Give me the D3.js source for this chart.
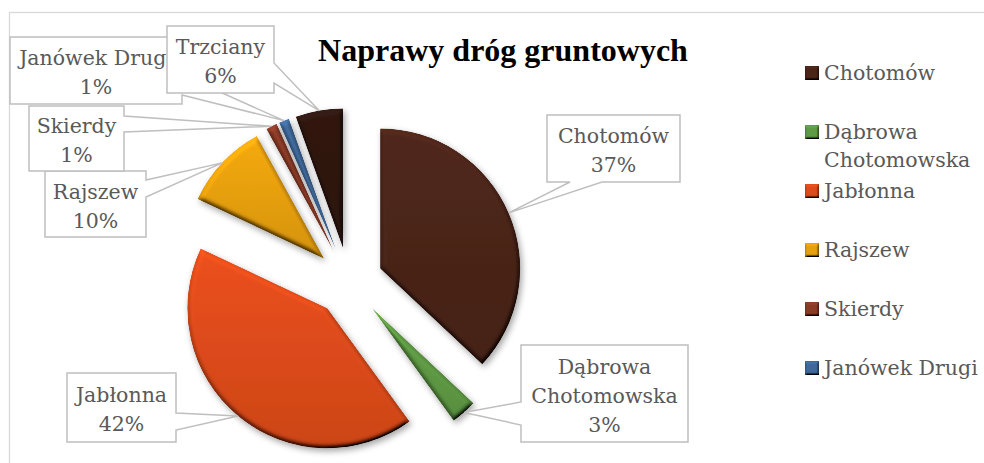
<!DOCTYPE html>
<html><head><meta charset="utf-8">
<script src="https://cdn.jsdelivr.net/npm/d3@7"></script>
<style>html,body{margin:0;padding:0;background:#fff;overflow:hidden}</style>
</head><body>
<svg id="chart" width="984" height="463"></svg>
<script>
const categories = ["Chotomów","Dąbrowa Chotomowska","Jabłonna","Rajszew","Skierdy","Janówek Drugi","Trzciany"];
const values = [37, 3, 42, 10, 1.3, 1.2, 5.5];
const colors = ["#4b2519","#5f9a44","#dd4b1a","#e69f0c","#8a3b27","#40699a","#2e1710"];
const labelNames = [["Chotomów"],["Dąbrowa","Chotomowska"],["Jabłonna"],["Rajszew"],["Skierdy"],["Janówek Drugi"],["Trzciany"]];
const legendNames = [["Chotomów"],["Dąbrowa","Chotomowska"],["Jabłonna"],["Rajszew"],["Skierdy"],["Janówek Drugi"],["Trzciany"]];
const title = "Naprawy dróg gruntowych";

// layout (not data)
const calloutLayout = [
  {x:547,y:115,w:133,h:67, side:"bottom", b:[570,602]},
  {x:521,y:345,w:167,h:97, side:"left",   b:[402,425]},
  {x:67, y:373,w:109,h:69, side:"right",  b:[413,430]},
  {x:45, y:171,w:101,h:66, side:"right",  b:[180,197]},
  {x:29, y:106,w:95, h:65, side:"right",  b:[116,132]},
  {x:10, y:37, w:172,h:67, side:"right",  b:[75,95]},
  {x:167,y:26, w:107,h:67, side:"right",  b:[63,83]}
];
const cx = 349, cy = 282, R = 140, explode = 34;
const FONT = "'DejaVu Serif', serif";

const svg = d3.select("#chart");
const defs = svg.append("defs");

// 3D bevel filter
const f = defs.append("filter").attr("id","bevel").attr("x","-30%").attr("y","-30%").attr("width","160%").attr("height","160%");
f.append("feGaussianBlur").attr("in","SourceAlpha").attr("stdDeviation",2.8).attr("result","blur");
f.append("feDiffuseLighting").attr("in","blur").attr("surfaceScale",5).attr("diffuseConstant",1).attr("lighting-color","#fff").attr("result","diff")
  .append("feDistantLight").attr("azimuth",250).attr("elevation",55);
f.append("feComposite").attr("in","SourceGraphic").attr("in2","diff").attr("operator","arithmetic")
  .attr("k1",1.22).attr("k2",0).attr("k3",0).attr("k4",0).attr("result","lit");
f.append("feComposite").attr("in","lit").attr("in2","SourceAlpha").attr("operator","in").attr("result","litc");
f.append("feGaussianBlur").attr("in","SourceAlpha").attr("stdDeviation",3).attr("result","sblur");
f.append("feOffset").attr("in","sblur").attr("dx",2).attr("dy",3).attr("result","soff");
f.append("feFlood").attr("flood-color","#000").attr("flood-opacity",0.35).attr("result","fl");
f.append("feComposite").attr("in","fl").attr("in2","soff").attr("operator","in").attr("result","shadow");
const m = f.append("feMerge");
m.append("feMergeNode").attr("in","shadow");
m.append("feMergeNode").attr("in","litc");

// small bevel for legend markers
const f2 = defs.append("filter").attr("id","bevelSmall").attr("x","-20%").attr("y","-20%").attr("width","140%").attr("height","140%");
f2.append("feGaussianBlur").attr("in","SourceAlpha").attr("stdDeviation",1.3).attr("result","blur");
f2.append("feDiffuseLighting").attr("in","blur").attr("surfaceScale",3).attr("diffuseConstant",1).attr("lighting-color","#fff").attr("result","diff")
  .append("feDistantLight").attr("azimuth",250).attr("elevation",55);
f2.append("feComposite").attr("in","SourceGraphic").attr("in2","diff").attr("operator","arithmetic")
  .attr("k1",1.22).attr("k2",0).attr("k3",0).attr("k4",0).attr("result","lit");
f2.append("feComposite").attr("in","lit").attr("in2","SourceAlpha").attr("operator","in");

// per-colour vertical gradients
colors.forEach((c,i)=>{
  const g = defs.append("linearGradient").attr("id","grad"+i).attr("x1",0).attr("y1",0).attr("x2",0).attr("y2",1);
  g.append("stop").attr("offset","0%").attr("stop-color",d3.color(c).brighter(0.18).formatHex());
  g.append("stop").attr("offset","100%").attr("stop-color",d3.color(c).darker(0.22).formatHex());
});

// chart border
svg.append("rect").attr("x",9.5).attr("y",12.5).attr("width",1000).attr("height",500)
  .attr("fill","#fff").attr("stroke","#d9d9d9").attr("stroke-width",1.3);

// title
svg.append("text").attr("x",503).attr("y",61).attr("text-anchor","middle")
  .attr("font-family","'Liberation Serif','Times New Roman',serif").attr("font-weight","bold")
  .attr("font-size",32).attr("fill","#000").text(title);

// pie
const data = categories.map((c,i)=>({name:c, value:values[i], color:colors[i], i}));
const pie = d3.pie().value(d=>d.value).sort(null).startAngle(0).endAngle(2*Math.PI);
const arcs = pie(data);
const arc = d3.arc().innerRadius(0).outerRadius(R);
const offArc = d3.arc().innerRadius(explode).outerRadius(explode);
const tipArc = d3.arc().innerRadius(R+explode).outerRadius(R+explode);
const total = d3.sum(values);

const gPie = svg.append("g").attr("transform",`translate(${cx},${cy})`);
gPie.selectAll("path.slice").data(arcs).join("path").attr("class","slice")
  .attr("transform",d=>{const c=offArc.centroid(d);return `translate(${c[0]},${c[1]})`;})
  .attr("d",arc).attr("fill",d=>`url(#grad${d.data.i})`).attr("filter","url(#bevel)");

// callouts
const gLab = svg.append("g");
arcs.forEach((d,i)=>{
  const L = calloutLayout[i];
  const t = tipArc.centroid(d); const tx=t[0]+cx, ty=t[1]+cy;
  const x0=L.x, y0=L.y, x1=L.x+L.w, y1=L.y+L.h;
  const p=d3.path();
  p.moveTo(x0,y0);
  if(L.side==="top"){p.lineTo(L.b[0],y0);p.lineTo(tx,ty);p.lineTo(L.b[1],y0);}
  p.lineTo(x1,y0);
  if(L.side==="right"){p.lineTo(x1,L.b[0]);p.lineTo(tx,ty);p.lineTo(x1,L.b[1]);}
  p.lineTo(x1,y1);
  if(L.side==="bottom"){p.lineTo(L.b[1],y1);p.lineTo(tx,ty);p.lineTo(L.b[0],y1);}
  p.lineTo(x0,y1);
  if(L.side==="left"){p.lineTo(x0,L.b[1]);p.lineTo(tx,ty);p.lineTo(x0,L.b[0]);}
  p.closePath();
  const g = gLab.append("g");
  g.append("path").attr("d",p.toString()).attr("fill","#fff").attr("stroke","#bfbfbf").attr("stroke-width",1.5).attr("stroke-linejoin","miter");
  const lines = labelNames[i].concat([Math.round(d.data.value/total*100)+"%"]);
  const n = lines.length, lh = 29, ccy = L.y + L.h/2, ccx = L.x + L.w/2;
  lines.forEach((s,k)=>{
    g.append("text").attr("x",ccx).attr("y",ccy+(k-(n-1)/2)*lh+9).attr("text-anchor","middle")
      .attr("font-family",FONT).attr("font-size",20.5).attr("fill","#595959").text(s);
  });
});

// legend
const legTop = 73, legStep = 59, legBottom = 410;
const gLeg = svg.append("g");
data.forEach((d,i)=>{
  const y = legTop + i*legStep;
  if (y > legBottom) return;
  gLeg.append("rect").attr("x",805).attr("y",y-7).attr("width",14).attr("height",14)
    .attr("fill",d.color).attr("filter","url(#bevelSmall)");
  legendNames[i].forEach((s,k)=>{
    gLeg.append("text").attr("x",824).attr("y",y+7+k*28).attr("font-family",FONT)
      .attr("font-size",20.5).attr("fill","#595959").text(s);
  });
});
</script>
</body></html>
